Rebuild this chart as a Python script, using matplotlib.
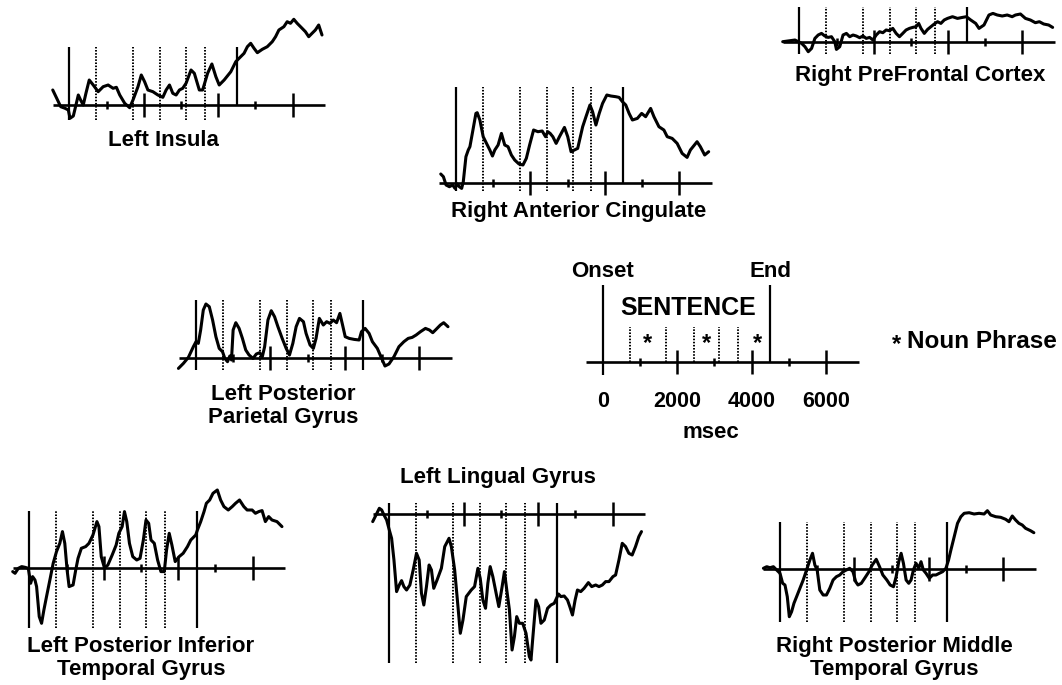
import matplotlib
matplotlib.use("Agg")
import matplotlib.pyplot as plt
import numpy as np

plt.rcParams['font.family'] = ['Liberation Sans', 'DejaVu Sans']
plt.rcParams['font.weight'] = 'bold'

# sentence timing (ms)
sentence_end = 4500
np_bounds = [725, 1715, 2450, 3135, 3640]
np_marks = [1200, 2800, 4150]
major_ticks = [2000, 4000, 6000]
minor_ticks = [1000, 3000, 5000]
tick_labels = ['0', '2000', '4000', '6000']

# traces: time (ms) and signal (a.u.)
insula_t = [-445, -338, -231, -115, -26, 19, 108, 179, 242, 304, 375, 447, 536, 643, 776, 910, 1044, 1177, 1266,
            1356, 1489, 1623, 1712, 1846, 1935, 2024, 2113, 2247, 2381, 2514, 2603, 2693, 2782, 2871, 2960, 3049,
            3138, 3272, 3361, 3495, 3584, 3718, 3833, 3940, 4030, 4163, 4342, 4475, 4564, 4698, 4787, 4876, 4966,
            5055, 5188, 5322, 5456, 5545, 5634, 5768, 5857, 5946, 6035, 6125, 6258, 6347, 6436, 6526, 6615, 6704, 6793]
insula_v = [15, 6.7, -1.7, -3.3, -5, -13.3, -11, 0, 10, 5, 0, 11.7, 25, 20, 13.3, 18.3, 20, 16.7, 17.7,
            10, 1.7, -2.7, 5, 18.3, 30, 23.3, 15, 13.3, 10, 7.7, 15, 20, 11.7, 10, 15, 16.7,
            21.7, 35, 31.7, 15, 15, 31.7, 41, 28.3, 20, 25, 33.3, 43.3, 46.7, 51.7, 58.3, 61.7, 56.7,
            52.3, 55.7, 58.3, 63.3, 68.3, 75, 78.3, 83.3, 81.7, 85.7, 81.7, 76.7, 73.3, 68.3, 71.7, 75, 80, 70]

cingulate_t = [-410, -339, -267, -178, -89, -27, 36, 89, 152, 196, 267, 330, 374, 463, 535, 570, 642, 731, 820,
               909, 980, 1043, 1132, 1221, 1310, 1399, 1488, 1578, 1693, 1800, 1890, 1979, 2086, 2202, 2317, 2407,
               2469, 2531, 2603, 2692, 2781, 2915, 3004, 3093, 3182, 3271, 3405, 3494, 3601, 3672, 3761, 3850,
               3940, 4055, 4162, 4296, 4385, 4474, 4563, 4653, 4742, 4875, 4991, 5098, 5232, 5321, 5455, 5588,
               5678, 5811, 5945, 6079, 6212, 6301, 6480, 6569, 6685, 6792]
cingulate_v = [8.7, 6, -2.3, -4, -2.3, -5.7, -1.3, -4, -5.7, 1, 26, 32.7, 36, 54.3, 69.3, 70, 62.7, 46, 39.3,
               32.7, 26.7, 32.7, 37.7, 49.3, 37.7, 36, 27.7, 22.7, 18.7, 17.7, 24.3, 37.7, 52.7, 51, 51.7, 46,
               51, 49.3, 46, 39.3, 46, 55.3, 46, 31, 32.7, 34.3, 56, 66, 77.7, 71, 57.7, 69.3,
               79.3, 87.7, 86.7, 86, 85.3, 81, 77.7, 69.3, 62.7, 64.3, 69.3, 66, 74.3, 66, 56, 52.7,
               46, 44.3, 39.3, 29.3, 25.3, 32.7, 41, 36, 27.7, 31]

prefrontal_t = [-446, -250, -116, -27, 62, 152, 241, 330, 419, 508, 597, 686, 775, 865, 954, 998, 1087, 1176,
                1266, 1355, 1444, 1533, 1622, 1711, 1800, 1890, 1979, 2068, 2157, 2246, 2335, 2424, 2513, 2603,
                2692, 2781, 2870, 2959, 3048, 3137, 3209, 3271, 3360, 3449, 3538, 3628, 3717, 3806, 3895, 3984,
                4118, 4252, 4385, 4492, 4608, 4742, 4831, 4965, 5098, 5205, 5321, 5455, 5589, 5722, 5811, 5945,
                6079, 6212, 6346, 6453, 6569, 6703, 6810]
prefrontal_v = [0, 1, 1.7, 0, -1.7, -5, -10, -6.7, 3.3, 6.7, 8.3, 5.7, 4.3, 5, 0, -7.7, -5, 6.7,
                8.3, 5, 6.7, 5.7, 4, 5.7, 3.3, 4.3, 1.7, 6.7, 10, 9, 11.7, 11, 13.3, 8.3,
                5, 8.3, 11.7, 13.3, 14.3, 15, 18.3, 13.3, 8.3, 12.3, 15, 17.7, 20, 18.3, 21.7, 23.3,
                25, 23.3, 24.3, 25, 21.7, 18.3, 13.3, 16.7, 26.7, 28.3, 26.7, 25.7, 26.7, 25, 26.7, 27.7,
                23.3, 21.7, 19, 20, 17.7, 16.7, 14.3]

parietal_t = [-472, -339, -205, -71, 0, 62, 125, 196, 267, 357, 446, 535, 624, 713, 775, 847, 909, 954, 998,
              1070, 1159, 1248, 1337, 1426, 1533, 1622, 1711, 1783, 1845, 1934, 2023, 2112, 2202, 2317, 2424,
              2513, 2603, 2692, 2781, 2888, 2959, 3066, 3155, 3227, 3316, 3423, 3512, 3601, 3690, 3779, 3868,
              3940, 4011, 4118, 4252, 4385, 4448, 4546, 4653, 4742, 4875, 4991, 5080, 5187, 5321, 5455, 5588,
              5704, 5811, 5918, 6034, 6168, 6275, 6364, 6453, 6569, 6658, 6774]
parietal_v = [-10.7, -5.7, 0.3, 11, 16, 14.3, 27.7, 47.7, 53.7, 51, 37.7, 21, 9.3, 6, -0.7, -4, 1.7, -2.3, 27.7,
              35, 29.3, 19.3, 7.7, 2.7, -0.7, 3.7, 5, 1, 11, 37.7, 47, 41, 31, 19.3, 9.3,
              2.7, 14.3, 31, 39.3, 36, 24.3, 12.7, 9.3, 19.3, 39.3, 32.7, 36, 34.3, 37.7, 35, 44.3,
              32.7, 21, 19.3, 18.3, 17.7, 26, 29.3, 24.3, 16, 9.3, -0.7, -8.3, -6.3, 1, 11, 16,
              19.3, 20.3, 22.7, 26, 29.3, 27.7, 25, 28.3, 32.7, 35, 31]

inftemp_t = [-446, -383, -294, -205, -116, -27, 36, 89, 152, 196, 267, 330, 392, 463, 553, 642, 731, 820, 891,
             954, 1016, 1070, 1177, 1248, 1310, 1399, 1515, 1604, 1711, 1818, 1872, 1934, 2023, 2112, 2228,
             2335, 2407, 2496, 2558, 2620, 2692, 2781, 2888, 2977, 3066, 3137, 3209, 3271, 3360, 3449, 3538,
             3628, 3690, 3761, 3833, 3922, 4029, 4136, 4252, 4341, 4474, 4519, 4608, 4697, 4760, 4849, 4938,
             5054, 5143, 5232, 5348, 5455, 5544, 5651, 5767, 5856, 5990, 6079, 6168, 6257, 6346, 6435, 6524,
             6658, 6792]
inftemp_v = [-3.3, -5, 0, 1.7, 1, 0, -15, -8.3, -11.7, -18.3, -48.3, -55, -41.7, -28.3, -11.7, 5, 16.7, 25, 36.7,
             25, -1.7, -18.3, -16.7, -1.7, 10, 20, 21.7, 25, 33.3, 46.7, 41.7, 11.7, 0, 3.3, 13.3,
             23.3, 35, 41.7, 56.7, 46.7, 25, 11.7, 8.3, 10, 28.3, 48.3, 45, 28.3, 25, 8.3, -3.3,
             -3.3, 18.3, 35, 23.3, 6.7, 11.7, 15, 21.7, 28.3, 33.3, 38.3, 46.7, 56.7, 65, 68.3, 75,
             78.3, 68.3, 61.7, 58.3, 61.7, 65, 68.3, 61.7, 58.3, 58.3, 55, 56.7, 57.7, 46.7, 51.7, 48.3,
             46.7, 41.7]

lingual_t = [-446, -357, -268, -205, -143, -71, 0, 62, 125, 196, 268, 330, 392, 464, 553, 642, 731, 803, 865,
             928, 999, 1070, 1133, 1195, 1284, 1400, 1490, 1606, 1668, 1757, 1846, 1909, 1980, 2069, 2203,
             2292, 2382, 2444, 2515, 2587, 2649, 2712, 2783, 2872, 2944, 3033, 3095, 3158, 3229, 3300, 3363,
             3425, 3497, 3586, 3675, 3764, 3809, 3853, 3943, 4014, 4076, 4166, 4255, 4344, 4433, 4549, 4612,
             4701, 4790, 4852, 4924, 4995, 5058, 5147, 5236, 5352, 5441, 5548, 5637, 5727, 5816, 5905, 6012,
             6083, 6173, 6262, 6351, 6440, 6529, 6619, 6708, 6779]
lingual_v = [-7.3, -0.7, 6, 4.3, -0.7, -5.7, -15.7, -24, -45.7, -77.3, -70.7, -66.3, -72.3, -75.7, -70.7, -55.7,
             -39, -45.7, -79, -90.7, -72.3, -50.7, -55.7, -74, -65.7, -54, -32.3, -24, -32.3, -55.7, -92.3, -119,
             -105.7, -82.3, -75.7, -72.3, -54, -64, -85.7, -94, -69, -52.3, -62.3, -79, -92.3, -72.3, -57.3,
             -75.7, -95.7, -135.7, -122.3, -102.3, -109, -109, -119, -142.3, -145.7, -125.7, -85.7, -92.3, -109,
             -105.7, -94, -90.7, -89, -79.7, -82.3, -81.7, -85.7, -92.3, -100.7, -85.7, -75.7, -77.3, -74, -68.3,
             -72.3, -70.7, -72.3, -70.7, -67.3, -67.3, -62.3, -60.7, -45.7, -29, -32.3, -39, -40.7, -32.3, -22.3,
             -17.3]

midtemp_t = [-446, -357, -268, -178, -89, 0, 71, 134, 196, 250, 312, 375, 446, 535, 624, 714, 803, 874, 937,
             999, 1070, 1160, 1249, 1338, 1427, 1516, 1606, 1695, 1784, 1873, 1962, 2034, 2096, 2185, 2275,
             2391, 2480, 2587, 2676, 2765, 2872, 2961, 3051, 3122, 3193, 3256, 3318, 3390, 3461, 3523, 3586,
             3657, 3729, 3791, 3853, 3925, 4014, 4103, 4192, 4282, 4371, 4460, 4531, 4594, 4683, 4772, 4862,
             4951, 5084, 5218, 5352, 5486, 5575, 5664, 5798, 5932, 6066, 6155, 6244, 6333, 6422, 6512, 6601,
             6735, 6824]
midtemp_v = [0.7, 2.3, 1.3, 2.3, -1, -4.3, -14.3, -16, -27.7, -47.7, -42.7, -34.3, -27.7, -19.3, -11, -1, 9, 15.7,
             4, -1, -21, -26, -26, -19.3, -11, -7.7, -6, -2.7, -1, 0.7, -2.7, -12.7, -16, -14.3, -9.3,
             -2.7, 4, 9.7, 2.3, -6, -11, -16, -17.7, -7.7, 7.3, 15.7, 5.7, -11, -14.3, -11, -1,
             5.7, 0.7, 7.3, -1, -4.3, -9.3, -6, -6, -4.3, -2.7, 0.7, 9, 19, 32.3, 45.7, 52.3,
             55.7, 56.3, 55, 55.7, 55, 58.3, 54, 52.3, 51.7, 49.7, 47.3, 53, 49, 45.7, 44, 40.7,
             38.3, 36.3]

W, H = 1062, 685
S = 0.0372  # px per ms
T0, T1 = -600, 7100
fig = plt.figure(figsize=(W / 100, H / 100), dpi=100)


def make_panel(x0, yb, vlo, vhi):
    ax = fig.add_axes([(x0 + T0 * S) / W, (H - yb + vlo) / H,
                       (T1 - T0) * S / W, (vhi - vlo) / H])
    ax.set_xlim(T0, T1)
    ax.set_ylim(vlo, vhi)
    ax.axis('off')
    return ax


def draw_frame(ax, top, bot, endbot, dot_top=None, dot_bot=None):
    dot_top = top if dot_top is None else dot_top
    dot_bot = bot if dot_bot is None else dot_bot
    ax.hlines(0, -450, 6880, color='k', lw=1.9)
    ax.vlines(0, bot, top, color='k', lw=1.6)
    ax.vlines(sentence_end, endbot, top, color='k', lw=1.6)
    ax.vlines(np_bounds, dot_bot, dot_top, color='k', lw=1.4, linestyles=(0, (0.8, 0.8)))
    ax.vlines(major_ticks, -12, 12, color='k', lw=1.8)
    ax.vlines(minor_ticks, -4, 4, color='k', lw=1.8)


panels = [
    # t, v, onset px x, baseline px y, line top, line bottom, end bottom
    (insula_t, insula_v, 69.3, 105, 58, -15, 0),
    (cingulate_t, cingulate_v, 456, 182.7, 96, -8, 0),
    (prefrontal_t, prefrontal_v, 799.3, 41.7, 35, -12, 0),
    (parietal_t, parietal_v, 196, 357.7, 58, -12, -12),
    (inftemp_t, inftemp_v, 29.3, 568.3, 57, -60, -60),
    (lingual_t, lingual_v, 389.3, 514.3, 11, -149, -149),
    (midtemp_t, midtemp_v, 780, 569, 47, -53, -53),
]

for t, v, x0, yb, top, bot, endbot in panels:
    vlo = min(min(v), bot, -12) - 6
    vhi = max(max(v), top, 12) + 6
    ax = make_panel(x0, yb, vlo, vhi)
    draw_frame(ax, top, bot, endbot)
    ax.plot(t, v, color='k', lw=2.2, solid_joinstyle='round', solid_capstyle='round')

# legend / time key
kax = make_panel(602.7, 361.7, -80, 100)
draw_frame(kax, 77, -13, 0, dot_top=35, dot_bot=0)
for tk, lab in zip([0] + major_ticks, tick_labels):
    kax.text(tk, -40, lab, ha='center', va='center', fontsize=15.5, fontweight='bold')
kax.text(2910, -71, 'msec', ha='center', va='center', fontsize=16, fontweight='bold')
kax.text(0, 90, 'Onset', ha='center', va='center', fontsize=16, fontweight='bold')
kax.text(sentence_end, 90, 'End', ha='center', va='center', fontsize=16, fontweight='bold')
kax.text(2290, 54, 'SENTENCE', ha='center', va='center', fontsize=18, fontweight='bold')
for m in np_marks:
    kax.text(m, 18, '*', ha='center', va='center', fontsize=17, fontweight='bold')


def label(x, y, s, size=16):
    fig.text(x / W, 1 - y / H, s, ha='center', va='center', fontsize=size,
             fontweight='bold', linespacing=1.17)


label(163, 140, 'Left Insula')
label(579, 211, 'Right Anterior Cingulate')
label(920, 75, 'Right PreFrontal Cortex')
label(283, 406, 'Left Posterior\nParietal Gyrus')
label(141, 658, 'Left Posterior Inferior\nTemporal Gyrus')
label(498, 478, 'Left Lingual Gyrus')
label(894, 658, 'Right Posterior Middle\nTemporal Gyrus')
fig.text(896 / W, 1 - 345 / H, '*', ha='center', va='center', fontsize=17, fontweight='bold')
fig.text(907 / W, 1 - 342 / H, 'Noun Phrase', ha='left', va='center', fontsize=17.5, fontweight='bold')

fig.savefig('out.png', dpi=100)
